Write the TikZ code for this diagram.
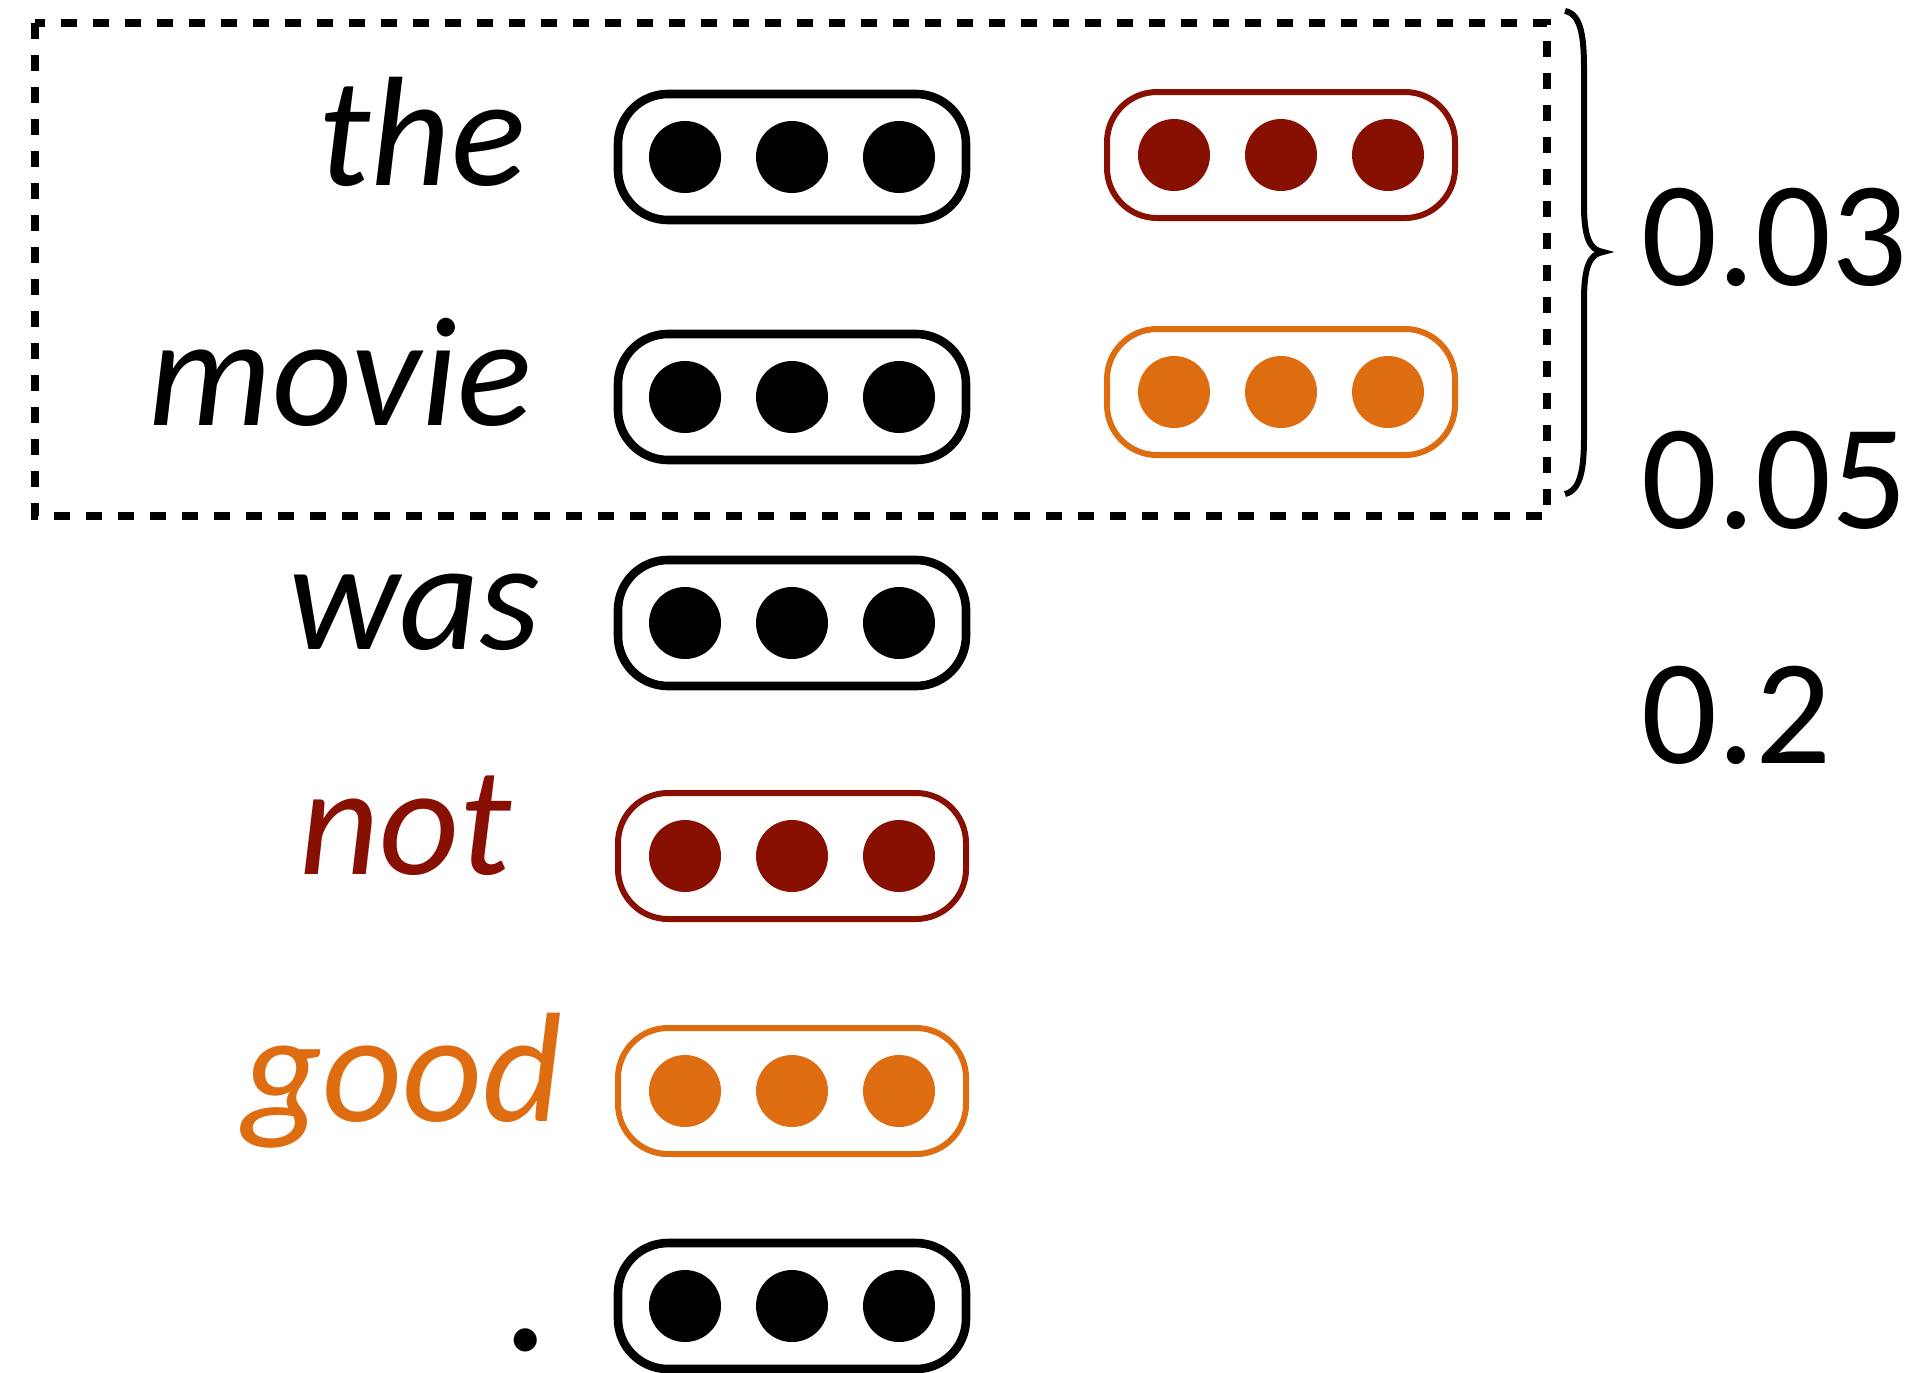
\documentclass[tikz,border=0pt]{standalone}
\usepackage{fontspec}
\setmainfont{Carlito}
\definecolor{dred}{RGB}{135,16,2}
\definecolor{dorange}{RGB}{222,108,17}
\begin{document}
\begin{tikzpicture}[x=0.5pt,y=-0.5pt,
  vecbox/.style={draw=#1,rectangle,rounded corners=25pt,minimum width=174pt,minimum height=63pt,line width=4.3pt,inner sep=0pt},
  vecbox/.default=black,
  colbox/.style={vecbox=#1,line width=3pt},
  dotc/.style={circle,fill=#1,minimum size=36pt,inner sep=0pt},
  dotc/.default=black,
  word/.style={anchor=base east,inner sep=0pt,font=\fontsize{78}{80}\selectfont\itshape},
  num/.style={anchor=base west,inner sep=0pt,font=\fontsize{75}{80}\selectfont}]
\useasboundingbox (0,0) rectangle (1927,1372);
% dashed group box
\draw[line width=3.8pt,dash pattern=on 8pt off 8pt] (35,23) rectangle (1547,516);
% column 1 vectors
\node[vecbox] (b1) at (792,157) {};
\node[vecbox] (b2) at (792,397) {};
\node[vecbox] (b3) at (792,623) {};
\node[colbox=dred] (b4) at (792,856) {};
\node[colbox=dorange] (b5) at (792,1091) {};
\node[vecbox] (b6) at (792,1306) {};
% column 2 vectors
\node[colbox=dred] (c1) at (1281,155) {};
\node[colbox=dorange] (c2) at (1281,392) {};
% dots
\foreach \n/\c in {b1/black,b2/black,b3/black,b4/dred,b5/dorange,b6/black,c1/dred,c2/dorange}{
  \node[dotc=\c] (\n-l) at ([xshift=-53.5pt]\n.center) {};
  \node[dotc=\c] (\n-m) at (\n.center) {};
  \node[dotc=\c] (\n-r) at ([xshift=53.5pt]\n.center) {};
}
% words
\node[word] (w1) at (526,185) {the};
\node[word] (w2) at (532,425) {movie};
\node[word] (w3) at (541,649) {was};
\node[word,text=dred] (w4) at (512,874) {not};
\node[word,text=dorange] (w5) at (563,1121) {good};
\node[word,font=\fontsize{96}{100}\selectfont\itshape] (w6) at (554,1350) {.};
% brace
\draw[line width=3pt] (1565,11) .. controls (1582,14) and (1584,40) .. (1584,70) -- (1584,205) .. controls (1584,238) and (1590,250) .. (1603,252) .. controls (1590,254) and (1584,266) .. (1584,300) -- (1584,435) .. controls (1584,465) and (1582,490) .. (1565,494);
% scores
\node[num] (s1) at (1641,285) {0.03};
\node[num] (s2) at (1641,528) {0.05};
\node[num] (s3) at (1641,763) {0.2};
\end{tikzpicture}
\end{document}
